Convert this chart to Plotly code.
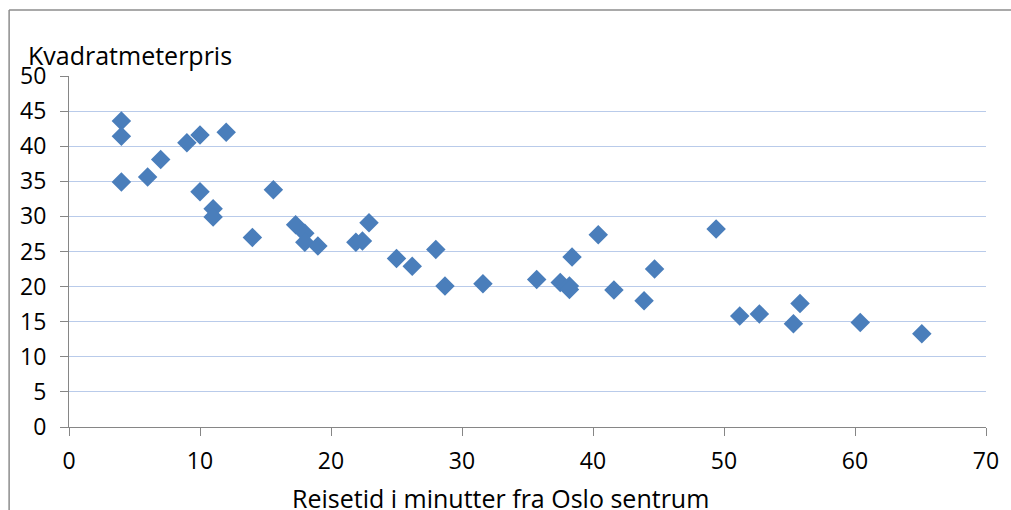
import plotly.graph_objects as go

reisetid = [4, 4, 4, 6, 7, 9, 10, 12, 10, 11, 11, 14, 15.6, 17.3, 18, 18, 19,
            22.9, 21.9, 22.4, 25, 26.2, 28, 28.7, 31.6, 35.7, 37.5, 38.2, 38.2,
            38.4, 40.4, 41.6, 43.9, 44.7, 49.4, 51.2, 52.7, 55.8, 55.3, 60.4, 65.1]
pris = [43.6, 41.4, 34.9, 35.6, 38.1, 40.5, 41.6, 42.0, 33.5, 31.1, 29.9, 27.0, 33.8, 28.8,
        27.6, 26.3, 25.8, 29.1, 26.3, 26.5, 24.0, 22.9, 25.3, 20.1, 20.4, 21.0,
        20.6, 20.1, 19.6, 24.2, 27.4, 19.5, 18.0, 22.5, 28.2, 15.8, 16.1, 17.6, 14.7, 14.9, 13.3]

y_title = "Kvadratmeterpris"
x_title = "Reisetid i minutter fra Oslo sentrum"

FONT = "Open Sans, Carlito, Calibri, sans-serif"

fig = go.Figure(go.Scatter(
    x=reisetid, y=pris, mode="markers",
    marker=dict(symbol="diamond", size=15, color="#4A7EBB", line=dict(width=0)),
))

axis_common = dict(
    showline=True, linecolor="#868686", linewidth=1,
    ticks="outside", ticklen=8, tickcolor="#868686", tickwidth=1,
    tickfont=dict(family=FONT, size=23, color="#000000"),
    zeroline=False,
)

fig.update_layout(
    width=1011, height=510, autosize=False,
    margin=dict(l=69, r=23, t=76, b=83),
    paper_bgcolor="white", plot_bgcolor="white",
    showlegend=False,
    font=dict(family=FONT, color="#000000"),
    xaxis=dict(range=[0, 70], dtick=10, showgrid=False, ticklabelstandoff=5, **axis_common),
    yaxis=dict(range=[0, 50], dtick=5, showgrid=True, gridcolor="#b9cbea", gridwidth=1,
               ticklabelstandoff=9, **axis_common),
    annotations=[
        dict(text=y_title, xref="paper", yref="paper", x=-0.0465, y=1.005,
             xanchor="left", yanchor="bottom", showarrow=False,
             font=dict(family=FONT, size=25, color="#000000")),
        dict(text=x_title, xref="paper", yref="paper", x=0.471, y=-0.203,
             xanchor="center", yanchor="middle", showarrow=False,
             font=dict(family=FONT, size=25, color="#000000")),
    ],
    shapes=[
        dict(type="line", xref="paper", yref="paper", x0=-0.0653, x1=-0.0653, y0=1.188, y1=-0.3,
             line=dict(color="#8c8c8c", width=1.5)),
        dict(type="line", xref="paper", yref="paper", x0=-0.0653, x1=1.1, y0=1.188, y1=1.188,
             line=dict(color="#8c8c8c", width=1.5)),
    ],
)

fig.write_html("out.html")
